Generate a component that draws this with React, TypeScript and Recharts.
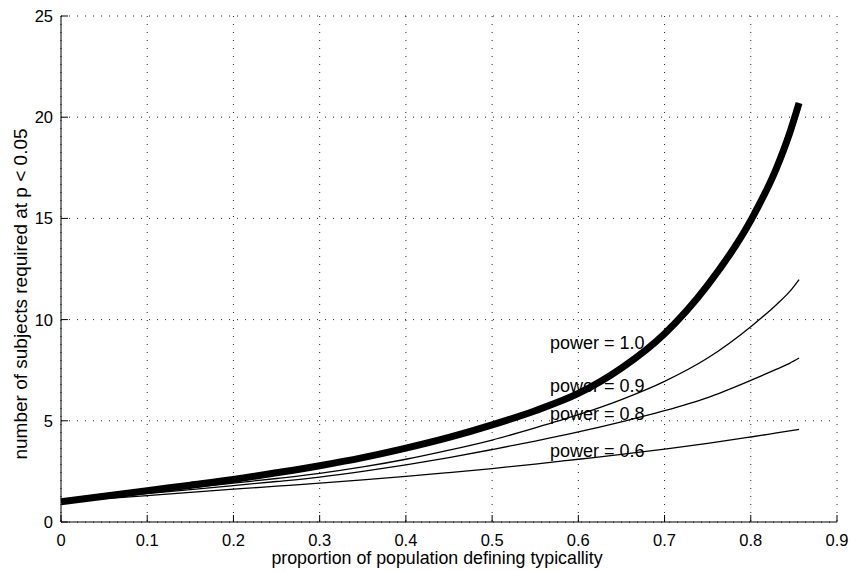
import {
  CartesianGrid,
  Label,
  Line,
  LineChart,
  ReferenceDot,
  XAxis,
  YAxis,
} from 'recharts'

// proportion of population (x) and required N for each power level
const proportions = [
  0, 0.05, 0.1, 0.15, 0.2, 0.25, 0.3, 0.35, 0.4, 0.45, 0.5, 0.55, 0.6, 0.65, 0.7, 0.75, 0.8, 0.83, 0.845, 0.856,
]
const power10 = [
  1.0, 1.27, 1.55, 1.82, 2.1, 2.43, 2.78, 3.18, 3.65, 4.18, 4.8, 5.5, 6.35, 7.6, 9.3, 11.7, 14.9, 17.5, 19.2, 20.7,
]
const power09 = [
  1.0, 1.22, 1.45, 1.68, 1.92, 2.15, 2.4, 2.72, 3.1, 3.55, 4.05, 4.65, 5.3, 6.05, 6.95, 8.1, 9.65, 10.75, 11.38, 11.98,
]
const power08 = [
  1.0, 1.2, 1.4, 1.6, 1.8, 2.0, 2.22, 2.5, 2.82, 3.18, 3.58, 4.0, 4.45, 4.95, 5.5, 6.15, 7.0, 7.55, 7.84, 8.1,
]
const power06 = [
  1.0, 1.15, 1.3, 1.46, 1.62, 1.77, 1.92, 2.08, 2.25, 2.44, 2.64, 2.86, 3.1, 3.34, 3.6, 3.88, 4.2, 4.4, 4.5, 4.58,
]

const xTicks = [0, 0.1, 0.2, 0.3, 0.4, 0.5, 0.6, 0.7, 0.8, 0.9]
const yTicks = [0, 5, 10, 15, 20, 25]

const curveLabels = [
  { text: 'power = 1.0', x: 0.567, y: 8.55 },
  { text: 'power = 0.9', x: 0.567, y: 6.42 },
  { text: 'power = 0.8', x: 0.567, y: 5.04 },
  { text: 'power = 0.6', x: 0.567, y: 3.21 },
]

const data = proportions.map((p, i) => ({
  p,
  p10: power10[i],
  p09: power09[i],
  p08: power08[i],
  p06: power06[i],
}))

const FONT = '"Liberation Sans", Arial, Helvetica, sans-serif'
const TICK_LEN = 7

function BottomTick({ x, y, payload }: any) {
  return (
    <g>
      <line x1={x} x2={x} y1={y} y2={y - TICK_LEN} stroke="#000" />
      <text x={x} y={y + 24} textAnchor="middle" fontSize={16.5} fontFamily={FONT} fill="#000">
        {payload.value}
      </text>
    </g>
  )
}

function TopTick({ x, y }: any) {
  return <line x1={x} x2={x} y1={y} y2={y + TICK_LEN} stroke="#000" />
}

function LeftTick({ x, y, payload }: any) {
  return (
    <g>
      <line x1={x} x2={x + TICK_LEN} y1={y} y2={y} stroke="#000" />
      <text x={x - 8} y={y + 6} textAnchor="end" fontSize={16.5} fontFamily={FONT} fill="#000">
        {payload.value}
      </text>
    </g>
  )
}

function RightTick({ x, y }: any) {
  return <line x1={x} x2={x - TICK_LEN} y1={y} y2={y} stroke="#000" />
}

export default function App() {
  return (
    <div style={{ position: 'absolute', left: 0, top: 0, background: '#fff' }}>
      <LineChart
        width={851}
        height={571}
        data={data}
        margin={{ top: 16, right: 14, bottom: 0, left: 0 }}
      >
        <CartesianGrid stroke="#222" strokeDasharray="1 7" />
        <XAxis
          dataKey="p"
          type="number"
          domain={[0, 0.9]}
          ticks={xTicks}
          height={49}
          tickSize={0}
          tickMargin={0}
          tickLine={false}
          axisLine={{ stroke: '#000' }}
          tick={<BottomTick />}
          interval={0}
        >
          <Label
            content={({ viewBox }: any) => (
              <text
                x={viewBox.x + viewBox.width / 2 - 12}
                y={viewBox.y + 42}
                textAnchor="middle"
                fontSize={17.8}
                fontFamily={FONT}
                fill="#000"
              >
                proportion of population defining typicallity
              </text>
            )}
          />
        </XAxis>
        <XAxis
          xAxisId="top"
          orientation="top"
          dataKey="p"
          type="number"
          domain={[0, 0.9]}
          ticks={xTicks}
          height={0}
          tickSize={0}
          tickMargin={0}
          tickLine={false}
          axisLine={{ stroke: '#000' }}
          tick={<TopTick />}
          interval={0}
        />
        <YAxis
          type="number"
          domain={[0, 25]}
          ticks={yTicks}
          width={61}
          tickSize={0}
          tickMargin={0}
          tickLine={false}
          axisLine={{ stroke: '#000' }}
          tick={<LeftTick />}
          interval={0}
        >
          <Label
            content={({ viewBox }: any) => {
              const cx = viewBox.x + 20
              const cy = viewBox.y + viewBox.height / 2 + 25
              return (
                <text
                  x={cx}
                  y={cy}
                  transform={`rotate(-90 ${cx} ${cy})`}
                  textAnchor="middle"
                  dominantBaseline="central"
                  fontSize={19}
                  fontFamily={FONT}
                  fill="#000"
                >
                  number of subjects required at p &lt; 0.05
                </text>
              )
            }}
          />
        </YAxis>
        <YAxis
          yAxisId="right"
          orientation="right"
          type="number"
          domain={[0, 25]}
          ticks={yTicks}
          width={0}
          tickSize={0}
          tickMargin={0}
          tickLine={false}
          axisLine={{ stroke: '#000' }}
          tick={<RightTick />}
          interval={0}
        />
        <Line type="monotone" dataKey="p06" stroke="#000" strokeWidth={1.3} dot={false} isAnimationActive={false} />
        <Line type="monotone" dataKey="p08" stroke="#000" strokeWidth={1.3} dot={false} isAnimationActive={false} />
        <Line type="monotone" dataKey="p09" stroke="#000" strokeWidth={1.3} dot={false} isAnimationActive={false} />
        <Line type="monotone" dataKey="p10" stroke="#000" strokeWidth={7} dot={false} isAnimationActive={false} />
        {curveLabels.map((c) => (
          <ReferenceDot
            key={c.text}
            x={c.x}
            y={c.y}
            r={0}
            shape={(props: any) => (
              <text x={props.cx} y={props.cy} fontSize={18} fontFamily={FONT} fill="#000">
                {c.text}
              </text>
            )}
          />
        ))}
      </LineChart>
    </div>
  )
}
